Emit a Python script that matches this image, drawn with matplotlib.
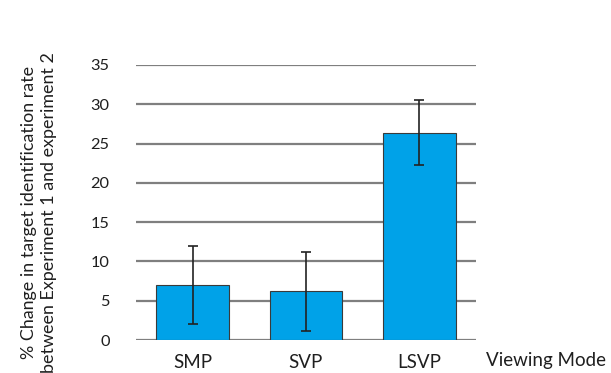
import matplotlib
matplotlib.use("Agg")
import matplotlib.pyplot as plt

modes = ["SMP", "SVP", "LSVP"]
change = [7.0, 6.2, 26.4]
err = [5.0, 5.0, 4.15]
yticks = [0, 5, 10, 15, 20, 25, 30, 35]

plt.rcParams["font.family"] = ["Lato", "DejaVu Sans"]

fig = plt.figure(figsize=(6.11, 3.73), dpi=100)
ax = fig.add_axes([136 / 611, 33 / 373, 340 / 611, 275 / 373])

ax.set_axisbelow(True)
ax.yaxis.grid(True, color="#7f7f7f", linewidth=1.6)
ax.bar(range(len(modes)), change, width=0.64, color="#00A2E8",
       edgecolor="#3a3a3a", linewidth=0.8, zorder=2)
ax.errorbar(range(len(modes)), change, yerr=err, fmt="none",
            ecolor="#222222", elinewidth=1.2, capsize=3.5, capthick=1.2, zorder=3)

ax.set_xlim(-0.5, len(modes) - 0.5)
ax.set_ylim(0, 35)
ax.set_yticks(yticks)
ax.set_xticks(range(len(modes)))
ax.set_xticklabels(modes)
for s in ax.spines.values():
    s.set_visible(False)
ax.tick_params(axis="y", length=0, pad=19, labelsize=11.8, labelcolor="#1f1f1f")
ax.tick_params(axis="x", length=0, pad=10, labelsize=13.5, labelcolor="#1f1f1f")

ax.set_ylabel("% Change in target identification rate\nbetween Experiment 1 and experiment 2",
              fontsize=12.9, color="#1f1f1f", labelpad=24, y=0.465, linespacing=1.35)
fig.text(546 / 611, (373 - 366) / 373, "Viewing Mode", ha="center", va="baseline",
         fontsize=13.5, color="#1f1f1f")

fig.savefig("out.png", dpi=100)
